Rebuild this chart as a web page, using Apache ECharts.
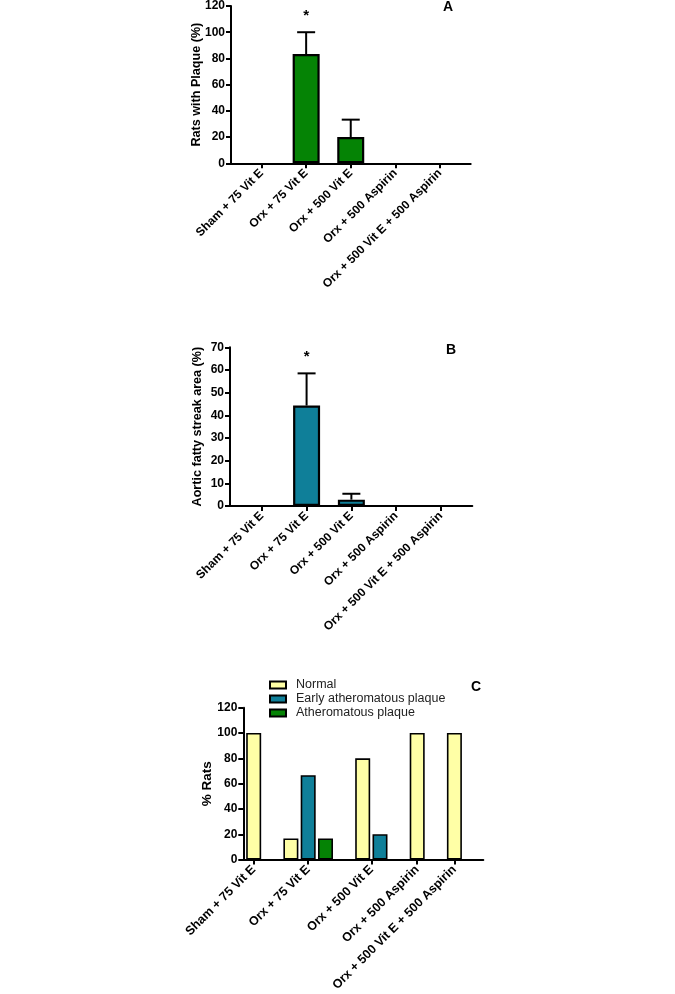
<!DOCTYPE html>
<html>
<head>
<meta charset="utf-8">
<script src="https://cdn.jsdelivr.net/npm/echarts@6/dist/echarts.min.js"></script>
<style>
html,body{margin:0;padding:0;background:#fff;}
#chart{width:675px;height:994px;}
</style>
</head>
<body>
<div id="chart"></div>
<script>
// ---- Data ----
var categories = ['Sham + 75 Vit E', 'Orx + 75 Vit E', 'Orx + 500 Vit E', 'Orx + 500 Aspirin', 'Orx + 500 Vit E + 500 Aspirin'];
// Panel A: rats with plaque (%)
var plaqueA = [0, 83.3, 20, 0, 0];
var plaqueAErr = [0, 16.7, 13.3, 0, 0];
var sigA = [false, true, false, false, false];
// Panel B: aortic fatty streak area (%)
var streakB = [0, 44.3, 2.8, 0, 0];
var streakBErr = [0, 14.2, 2.6, 0, 0];
var sigB = [false, true, false, false, false];
// Panel C: % rats by lesion type
var seriesNamesC = ['Normal', 'Early atheromatous plaque', 'Atheromatous plaque'];
var normalC = [100, 16.7, 80, 100, 100];
var earlyC = [0, 66.7, 20, 0, 0];
var atheroC = [0, 16.7, 0, 0, 0];
// Tick values
var ticksA = [0, 20, 40, 60, 80, 100, 120];
var ticksB = [0, 10, 20, 30, 40, 50, 60, 70];
var ticksC = [0, 20, 40, 60, 80, 100, 120];

// ---- Styles ----
var FONT = '"Liberation Sans", Arial, sans-serif';
var GREEN = '#058305';
var TEAL = '#0f7f99';
var YELLOW = '#ffffa6';
var catIdx = categories.map(function (c, i) { return i; });

function yAxisCfg(ticks, name, gridIndex, nameSize, gap) {
  return {
    type: 'value', gridIndex: gridIndex,
    min: ticks[0], max: ticks[ticks.length - 1], interval: ticks[1] - ticks[0],
    name: name, nameLocation: 'middle', nameGap: gap, nameMoveOverlap: false,
    nameTextStyle: { fontFamily: FONT, fontWeight: 'bold', fontSize: nameSize, color: '#000' },
    axisLine: { show: true, onZero: false, lineStyle: { color: '#000', width: 2 } },
    axisTick: { show: true, inside: false, length: 5, lineStyle: { color: '#000', width: 2 } },
    axisLabel: { fontFamily: FONT, fontWeight: 'bold', fontSize: 12, color: '#000', margin: 6 },
    splitLine: { show: false }
  };
}
function xAxisCfg(min, max, ticksPos, gridIndex, fontSize) {
  return {
    type: 'value', gridIndex: gridIndex, min: min, max: max,
    axisLine: { show: true, onZero: false, lineStyle: { color: '#000', width: 2 } },
    axisTick: { show: true, customValues: ticksPos, length: 5, lineStyle: { color: '#000', width: 2 } },
    axisLabel: {
      customValues: ticksPos, rotate: 45, margin: 8,
      fontFamily: FONT, fontWeight: 'bold', fontSize: fontSize, color: '#000',
      formatter: function (v) {
        var best = 0;
        ticksPos.forEach(function (t, k) { if (Math.abs(t - v) < Math.abs(ticksPos[best] - v)) best = k; });
        return categories[best];
      }
    },
    splitLine: { show: false }
  };
}
function errSeries(vals, errs, sig, xi, yi) {
  return {
    type: 'custom', xAxisIndex: xi, yAxisIndex: yi, z: 5,
    data: vals.map(function (v, i) { return [i, v, errs[i], sig[i] ? 1 : 0]; }),
    renderItem: function (params, api) {
      var x = api.value(0), v = api.value(1), e = api.value(2), s = api.value(3);
      var children = [];
      var base = api.coord([x, v]);
      var top = api.coord([x, v + e]);
      if (e > 0) {
        children.push({ type: 'line', shape: { x1: base[0], y1: base[1], x2: top[0], y2: top[1] }, style: { stroke: '#000', lineWidth: 2 } });
        children.push({ type: 'line', shape: { x1: top[0] - 9, y1: top[1], x2: top[0] + 9, y2: top[1] }, style: { stroke: '#000', lineWidth: 2 } });
      }
      if (s) {
        children.push({ type: 'text', style: { text: '*', x: top[0], y: top[1] - 16.5, align: 'center', verticalAlign: 'middle', font: 'bold 15px ' + FONT, fill: '#000' } });
      }
      return { type: 'group', children: children };
    }
  };
}
function barData(vals) {
  return vals.map(function (v, i) { return [i, v === 0 ? '-' : v]; });
}

// Panel C positions computed from data: non-zero bars packed side by side, gap between categories
var cSeriesVals = [normalC, earlyC, atheroC];
var GAP = 1.15;
var cPos = [[], [], []];
var cTickPos = [];
var cursor = 0;
categories.forEach(function (c, i) {
  var first = null, last = null;
  cSeriesVals.forEach(function (arr, s) {
    if (arr[i] > 0) {
      cPos[s].push([cursor, arr[i]]);
      if (first === null) first = cursor;
      last = cursor;
      cursor += 1;
    }
  });
  cTickPos.push((first + last) / 2);
  cursor += GAP;
});

var chart = echarts.init(document.getElementById('chart'), null, { renderer: 'canvas' });
var colorsC = [YELLOW, TEAL, GREEN];
var option = {
  animation: false,
  backgroundColor: '#fff',
  textStyle: { fontFamily: FONT },
  grid: [
    { left: 231, right: 204.3, top: 4.7, bottom: 830.7, containLabel: false },
    { left: 230, right: 202.7, top: 347.3, bottom: 488, containLabel: false },
    { left: 243.3, right: 191.7, top: 707.7, bottom: 127.3, containLabel: false }
  ],
  xAxis: [
    xAxisCfg(-0.685, 4.69, catIdx, 0, 12),
    xAxisCfg(-0.71, 4.70, catIdx, 1, 12),
    xAxisCfg(-0.6, 13.27, cTickPos, 2, 12.5)
  ],
  yAxis: [
    yAxisCfg(ticksA, 'Rats with Plaque (%)', 0, 12.6, 28),
    yAxisCfg(ticksB, 'Aortic fatty streak area (%)', 1, 12.6, 26),
    yAxisCfg(ticksC, '% Rats', 2, 13.5, 29)
  ],
  legend: {
    orient: 'vertical', left: 269, top: 678, padding: 0, itemWidth: 16, itemHeight: 7, itemGap: 0,
    icon: 'rect',
    data: seriesNamesC,
    textStyle: { fontFamily: FONT, fontSize: 12.5, color: '#222', padding: [0, 0, 0, 5], lineHeight: 14 }
  },
  graphic: [
    { type: 'text', left: 443, top: 0, style: { text: 'A', font: 'bold 14px ' + FONT, fill: '#000' } },
    { type: 'text', left: 446, top: 343, style: { text: 'B', font: 'bold 14px ' + FONT, fill: '#000' } },
    { type: 'text', left: 471, top: 680, style: { text: 'C', font: 'bold 14px ' + FONT, fill: '#000' } }
  ],
  series: [
    { type: 'bar', xAxisIndex: 0, yAxisIndex: 0, barWidth: 27,
      data: barData(plaqueA),
      itemStyle: { color: GREEN, borderColor: '#000', borderWidth: 2.2 } },
    errSeries(plaqueA, plaqueAErr, sigA, 0, 0),
    { type: 'bar', xAxisIndex: 1, yAxisIndex: 1, barWidth: 27,
      data: barData(streakB),
      itemStyle: { color: TEAL, borderColor: '#000', borderWidth: 2.2 } },
    errSeries(streakB, streakBErr, sigB, 1, 1)
  ].concat(seriesNamesC.map(function (n, s) {
    return { type: 'bar', name: n, xAxisIndex: 2, yAxisIndex: 2, barWidth: 15, barGap: '-100%',
      data: cPos[s],
      itemStyle: { color: colorsC[s], borderColor: '#000', borderWidth: 1.6 } };
  }))
};
chart.setOption(option);
</script>
</body>
</html>
